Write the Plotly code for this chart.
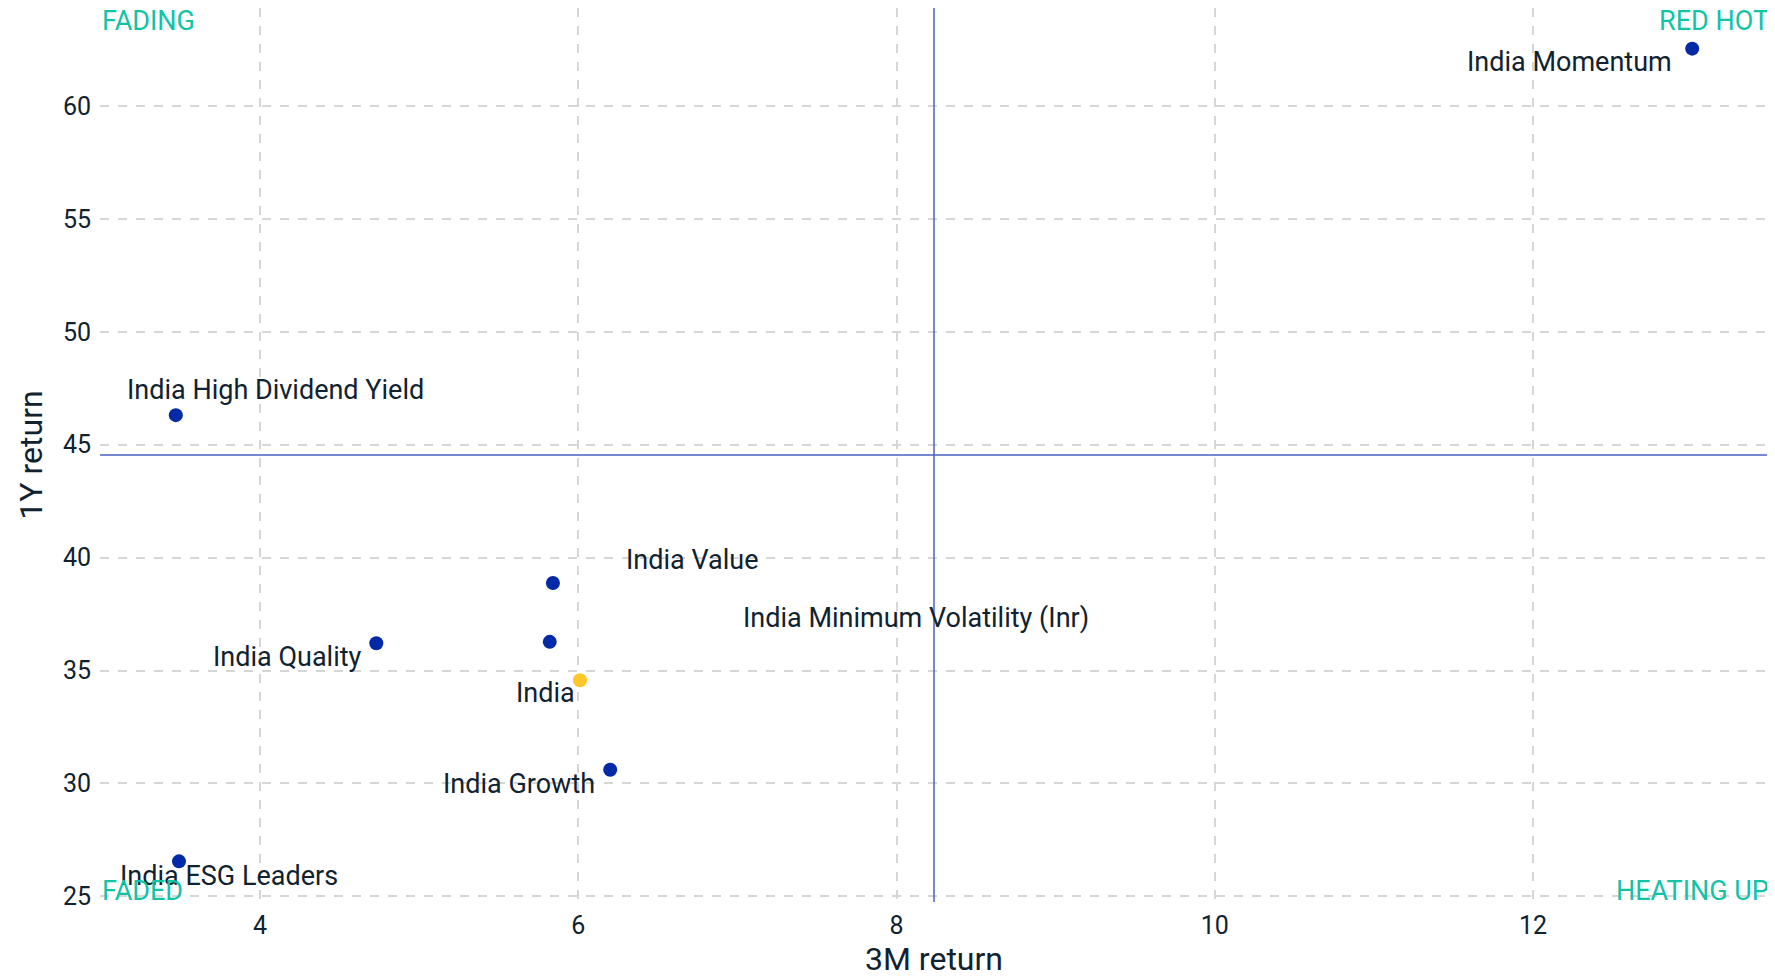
import plotly.graph_objects as go

# ---- data ----
names = ["India Momentum", "India High Dividend Yield", "India Value",
         "India Minimum Volatility (Inr)", "India", "India Growth",
         "India Quality", "India ESG Leaders"]
ret_3m = [13.00, 3.47, 5.84, 5.82, 6.01, 6.20, 4.73, 3.49]
ret_1y = [62.54, 46.31, 38.88, 36.27, 34.57, 30.61, 36.21, 26.55]
x_ticks = [4, 6, 8, 10, 12]
y_ticks = [25, 30, 35, 40, 45, 50, 55, 60]
quadrants = ["FADING", "RED HOT", "FADED", "HEATING UP"]

# ---- styles ----
TEXT = "#10222F"
BLUE = "#0229A8"
YELLOW = "#FFC629"
LINE = "#4A5FC1"
TEAL = "#12C3A6"
FONT = "Roboto"

label_style = {
    "India Momentum": dict(xanchor="right", xshift=-18, yshift=-13),
    "India High Dividend Yield": dict(xanchor="center", xshift=100, yshift=25),
    "India Value": dict(xanchor="left", xshift=71, yshift=23),
    "India Minimum Volatility (Inr)": dict(xanchor="left", xshift=191, yshift=24),
    "India": dict(xanchor="right", xshift=-3, yshift=-13),
    "India Growth": dict(xanchor="right", xshift=-13, yshift=-14),
    "India Quality": dict(xanchor="right", xshift=-12, yshift=-14),
    "India ESG Leaders": dict(xanchor="center", xshift=50, yshift=-15),
}

xmin, xmax = min(ret_3m), max(ret_3m)
ymin, ymax = min(ret_1y), max(ret_1y)
xpad = (xmax - xmin) * 0.05
ypad = (ymax - ymin) * 0.05
xmid = (xmin + xmax) / 2
ymid = (ymin + ymax) / 2

colors = [YELLOW if n == "India" else BLUE for n in names]

fig = go.Figure()
fig.add_trace(go.Scatter(
    x=ret_3m, y=ret_1y, mode="markers",
    marker=dict(size=14, color=colors, line=dict(width=0)),
    text=names, hoverinfo="text+x+y", showlegend=False,
))

fig.add_vline(x=xmid, line=dict(color=LINE, width=1.5))
fig.add_hline(y=ymid, line=dict(color=LINE, width=1.5))

annotations = []
for n, xv, yv in zip(names, ret_3m, ret_1y):
    st = label_style[n]
    annotations.append(dict(
        x=xv, y=yv, xref="x", yref="y", text=n, showarrow=False,
        yanchor="middle", font=dict(family=FONT, size=27, color=TEXT), **st))

q_pos = [
    dict(x=0, y=1, xanchor="left", yanchor="top", yshift=5),
    dict(x=1, y=1, xanchor="right", yanchor="top", yshift=5, xshift=3),
    dict(x=0, y=0, xanchor="left", yanchor="bottom", yshift=-7),
    dict(x=1, y=0, xanchor="right", yanchor="bottom", yshift=-7, xshift=3),
]
for q, p in zip(quadrants, q_pos):
    annotations.append(dict(
        xref="paper", yref="paper", text=q, showarrow=False,
        font=dict(family=FONT, size=27, color=TEAL), **p))

fig.update_layout(
    width=1767, height=970,
    margin=dict(l=92, r=7, t=0, b=76),
    paper_bgcolor="white", plot_bgcolor="white",
    font=dict(family=FONT, color=TEXT),
    annotations=annotations,
    xaxis=dict(
        range=[xmin - xpad, xmax + xpad],
        tickvals=x_ticks, ticktext=[str(v) for v in x_ticks],
        showgrid=True, gridcolor="#D6D6D6", griddash="dash", gridwidth=1.5,
        zeroline=False, showline=False, ticks="",
        tickfont=dict(family=FONT, size=25, color=TEXT),
        ticklabelstandoff=6,
        title=dict(text="3M return", font=dict(family=FONT, size=32, color=TEXT),
                   standoff=6),
    ),
    yaxis=dict(
        range=[ymin - ypad, ymax + ypad],
        tickvals=y_ticks, ticktext=[str(v) for v in y_ticks],
        showgrid=True, gridcolor="#D6D6D6", griddash="dash", gridwidth=1.5,
        zeroline=False, showline=False, ticks="",
        tickfont=dict(family=FONT, size=25, color=TEXT),
        ticklabelstandoff=8,
        title=dict(text="1Y return", font=dict(family=FONT, size=32, color=TEXT),
                   standoff=10),
    ),
)

fig.write_html("out.html")
